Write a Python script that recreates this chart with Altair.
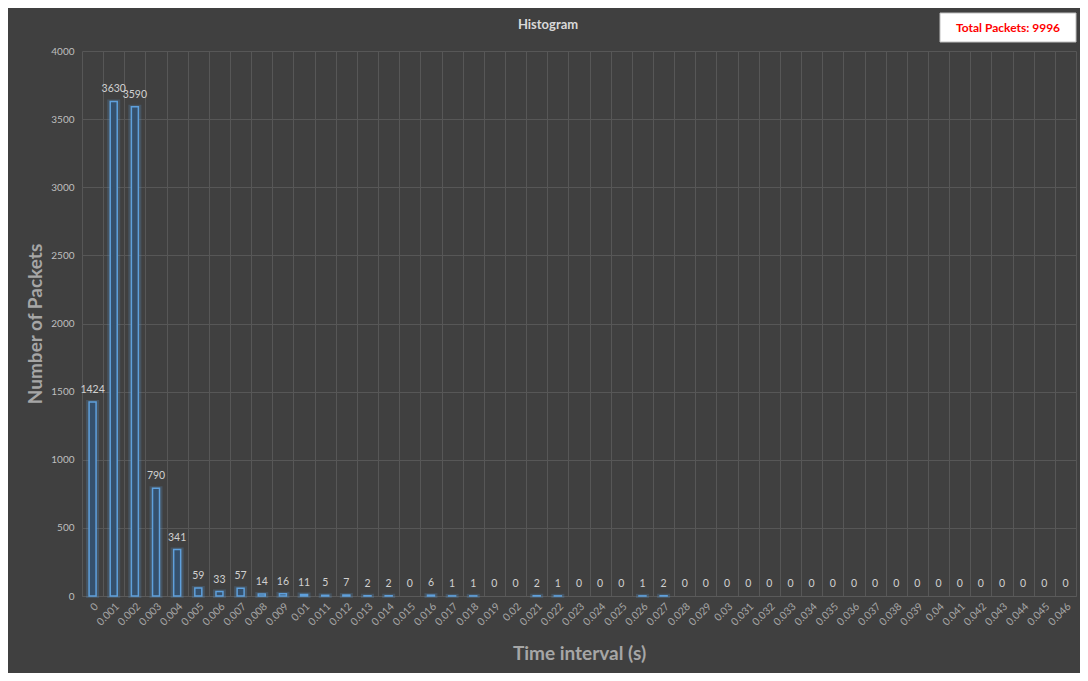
import altair as alt
import pandas as pd

categories = ["0", "0.001", "0.002", "0.003", "0.004", "0.005", "0.006", "0.007", "0.008", "0.009",
              "0.01", "0.011", "0.012", "0.013", "0.014", "0.015", "0.016", "0.017", "0.018", "0.019",
              "0.02", "0.021", "0.022", "0.023", "0.024", "0.025", "0.026", "0.027", "0.028", "0.029",
              "0.03", "0.031", "0.032", "0.033", "0.034", "0.035", "0.036", "0.037", "0.038", "0.039",
              "0.04", "0.041", "0.042", "0.043", "0.044", "0.045", "0.046"]
counts = [1424, 3630, 3590, 790, 341, 59, 33, 57, 14, 16,
          11, 5, 7, 2, 2, 0, 6, 1, 1, 0,
          0, 2, 1, 0, 0, 0, 1, 2, 0, 0,
          0, 0, 0, 0, 0, 0, 0, 0, 0, 0,
          0, 0, 0, 0, 0, 0, 0]
y_ticks = [0, 500, 1000, 1500, 2000, 2500, 3000, 3500, 4000]
title_text = "Histogram"
box_text = "Total Packets: 9996"

df = pd.DataFrame({"interval": categories, "count": counts})

W, H = 994, 545
BG = "#404040"
FONT = "Lato"

x_enc = alt.X("interval:N", sort=categories,
              scale=alt.Scale(paddingInner=0, paddingOuter=0),
              axis=alt.Axis(title="Time interval (s)", labelAngle=-45, labelFontSize=10.5,
                            labelColor="#a6a6a6", labelFont=FONT, labelPadding=5,
                            ticks=False, tickBand="extent", grid=True, gridColor="#575757",
                            domainColor="#5a5a5a", titleFont=FONT, titleFontSize=19,
                            titleFontWeight="bold", titleColor="#a6a6a6",
                            titleBaseline="alphabetic", titleY=63))
y_enc = alt.Y("count:Q", scale=alt.Scale(domain=[0, 4000], nice=False),
              axis=alt.Axis(title="Number of Packets", values=y_ticks, format="d",
                            labelFontSize=10, labelColor="#bfbfbf", labelFont=FONT,
                            labelPadding=8, ticks=False, domain=False, grid=True,
                            gridColor="#575757", titleFont=FONT, titleFontSize=19,
                            titleFontWeight="bold", titleColor="#a6a6a6", titleX=-47,
                            titleBaseline="middle"))

base = alt.Chart(df)
nonzero = base.transform_filter(alt.datum["count"] > 0)

glow = nonzero.mark_bar(size=9, fill=None, stroke="#5b9bd5", strokeWidth=4,
                        strokeOpacity=0.22).encode(x=x_enc, y=y_enc)
bars = nonzero.mark_bar(size=7, fill="#35506c", stroke="#5fa0dc",
                        strokeWidth=1.5).encode(x=x_enc, y=y_enc)
labels = base.mark_text(dy=-12, fontSize=10.5, color="#d0d0d0", font=FONT).encode(
    x=x_enc, y=y_enc, text="count:Q")

title_df = pd.DataFrame({"t": [title_text]})
title = alt.Chart(title_df).mark_text(fontSize=13, fontWeight="bold", color="#d9d9d9",
                                      font=FONT, baseline="middle").encode(
    x=alt.value(466), y=alt.value(-26), text="t:N")

box_df = pd.DataFrame({"t": [box_text]})
box = alt.Chart(box_df).mark_rect(fill="white", stroke="#bfbfbf", strokeWidth=1).encode(
    x=alt.value(858), x2=alt.value(994), y=alt.value(-38), y2=alt.value(-9))
box_label = alt.Chart(box_df).mark_text(fontSize=12, fontWeight="bold", color="#ff0000",
                                        font=FONT, baseline="middle").encode(
    x=alt.value(926), y=alt.value(-23.5), text="t:N")

chart = alt.layer(glow, bars, labels, title, box, box_label).properties(
    width=W, height=H,
    background=BG,
    padding={"left": 74, "top": 43, "right": 4, "bottom": 77},
    autosize=alt.AutoSizeParams(type="none"),
).configure_view(stroke=None)

chart.save("out.html", embed_options={"renderer": "svg", "actions": False})
